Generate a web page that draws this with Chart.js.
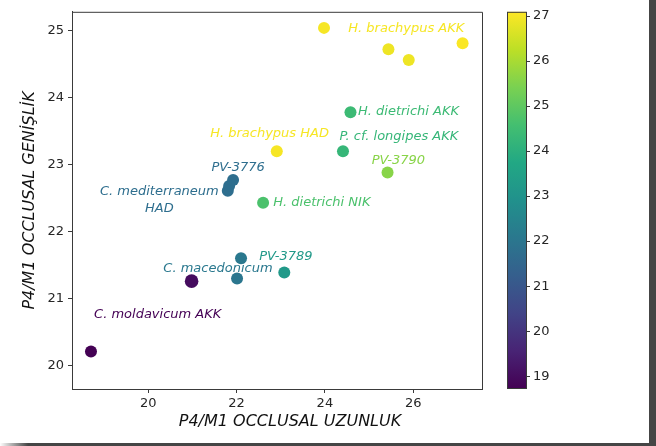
<!DOCTYPE html>
<html>
<head>
<meta charset="utf-8">
<script src="https://cdn.jsdelivr.net/npm/chart.js@4"></script>
<style>
  html, body { margin: 0; padding: 0; background: #fff; }
  #wrap { position: relative; width: 656px; height: 446px; overflow: hidden; }
  #edge-r { position: absolute; left: 649px; top: 0; width: 7px; height: 446px; background: #454545; }
  #edge-b { position: absolute; left: 0; top: 443px; width: 656px; height: 3px;
            background: linear-gradient(to right, rgba(69,69,69,0) 0px, #454545 28px); }
</style>
</head>
<body>
<div id="wrap">
  <canvas id="c" width="656" height="446"></canvas>
  <div id="edge-r"></div>
  <div id="edge-b"></div>
</div>
<script>
/* ---- data ---- */
const lengthVals = [18.70, 20.98, 22.10, 22.01, 23.08, 22.60, 21.80, 21.83, 21.92, 22.91, 24.41, 24.58, 25.42, 23.98, 25.44, 25.90, 27.12];
const widthVals  = [20.21, 21.26, 21.60, 21.30, 21.39, 22.43, 22.61, 22.68, 22.77, 23.20, 23.20, 23.78, 22.88, 25.04, 24.72, 24.56, 24.81];
const colorVals  = [18.74, 19.00, 22.08, 22.00, 23.20, 24.70, 21.75, 21.75, 21.75, 27.00, 24.25, 24.40, 25.60, 27.00, 26.90, 26.90, 27.05];

const labelTexts = ['H. brachypus AKK', 'H. dietrichi AKK', 'H. brachypus HAD', 'P. cf. longipes AKK', 'PV-3790',
                    'PV-3776', 'C. mediterraneum\nHAD', 'H. dietrichi NIK', 'PV-3789', 'C. macedonicum', 'C. moldavicum AKK'];
const labelX     = [24.53, 24.75, 21.40, 24.33, 25.06, 21.43, 20.25, 22.83, 22.51, 20.34, 18.77];
const labelY     = [25.03, 23.79, 23.46, 23.41, 23.06, 22.96, 22.47, 22.43, 21.62, 21.44, 20.76];
const labelColor = [27.00, 24.40, 27.00, 24.25, 25.60, 21.75, 21.75, 24.70, 23.20, 22.08, 18.74];

const xTicks = [20, 22, 24, 26];
const yTicks = [20, 21, 22, 23, 24, 25];
const cTicks = [19, 20, 21, 22, 23, 24, 25, 26, 27];
const C_MIN = 18.74, C_MAX = 27.09;
const X_TITLE = 'P4/M1 OCCLUSAL UZUNLUK';

/* ---- viridis ---- */
const VIRIDIS = ['#440154','#482475','#414487','#355f8d','#2a788e','#21918c','#22a884','#44bf70','#7ad151','#bddf26','#fde725'];
function hex2rgb(h) { return [1,3,5].map(i => parseInt(h.substr(i,2),16)); }
function viridis(t) {
    t = Math.max(0, Math.min(1, t));
    const p = t * (VIRIDIS.length - 1), i = Math.min(Math.floor(p), VIRIDIS.length - 2), f = p - i;
    const a = hex2rgb(VIRIDIS[i]), b = hex2rgb(VIRIDIS[i+1]);
    return `rgb(${a.map((v,k)=>Math.round(v + (b[k]-v)*f)).join(',')})`;
}
function cmap(v) { return viridis((v - C_MIN) / (C_MAX - C_MIN)); }

const FONT = 'DejaVu Sans';
const TICK_COLOR = '#262626';

/* ---- frame, colorbar, text labels, x title ---- */
const extras = {
    id: 'extras',
    afterDatasetsDraw(chart) {
        const ctx = chart.ctx, a = chart.chartArea, xs = chart.scales.x, ys = chart.scales.y;
        ctx.save();
        // text labels
        ctx.font = `italic 13px "${FONT}"`;
        ctx.textBaseline = 'middle';
        labelTexts.forEach((t, i) => {
            const px = xs.getPixelForValue(labelX[i]), py = ys.getPixelForValue(labelY[i]);
            ctx.fillStyle = cmap(labelColor[i]);
            const lines = t.split('\n');
            if (lines.length > 1) {
                ctx.textAlign = 'center';
                const lh = 17.5, y0 = py - lh * (lines.length - 1) / 2;
                lines.forEach((l, k) => ctx.fillText(l, px, y0 + k * lh));
            } else {
                ctx.textAlign = 'left';
                ctx.fillText(t, px, py);
            }
        });
        // x axis title (sits a little right of the plot centre in the picture)
        ctx.font = `italic 16px "${FONT}"`;
        ctx.fillStyle = '#111'; ctx.textAlign = 'center';
        ctx.fillText(X_TITLE, (a.left + a.right) / 2 + 13, 422);
        // top/right frame
        ctx.strokeStyle = '#3a3a3a'; ctx.lineWidth = 1;
        ctx.beginPath();
        ctx.moveTo(a.left, a.top + 0.5); ctx.lineTo(a.right + 0.5, a.top + 0.5); ctx.lineTo(a.right + 0.5, a.bottom);
        ctx.stroke();
        // colorbar
        const cbL = 507, cbR = 526, top = a.top, bot = a.bottom - 1;
        const g = ctx.createLinearGradient(0, bot, 0, top);
        VIRIDIS.forEach((c, i) => g.addColorStop(i / (VIRIDIS.length - 1), c));
        ctx.fillStyle = g;
        ctx.fillRect(cbL, top, cbR - cbL, bot - top);
        ctx.strokeRect(cbL + 0.5, top + 0.5, cbR - cbL, bot - top);
        ctx.font = `13px "${FONT}"`;
        ctx.fillStyle = TICK_COLOR; ctx.textAlign = 'left'; ctx.textBaseline = 'middle';
        cTicks.forEach(v => {
            const py = bot - (v - C_MIN) / (C_MAX - C_MIN) * (bot - top);
            ctx.beginPath(); ctx.moveTo(cbR, Math.round(py) + 0.5); ctx.lineTo(cbR + 4, Math.round(py) + 0.5); ctx.stroke();
            ctx.fillText(String(v), cbR + 7, py);
        });
        ctx.restore();
    }
};

new Chart(document.getElementById('c'), {
    type: 'scatter',
    data: {
        datasets: [{
            data: lengthVals.map((x, i) => ({ x, y: widthVals[i] })),
            backgroundColor: colorVals.map(cmap),
            borderWidth: 0,
            pointRadius: lengthVals.map((x, i) => i === 1 ? 6.8 : 6),
            pointHoverRadius: 6
        }]
    },
    options: {
        responsive: false,
        animation: false,
        events: [],
        layout: { padding: { top: 10, right: 174, bottom: 0, left: 0 } },
        plugins: { legend: { display: false }, tooltip: { enabled: false } },
        scales: {
            x: {
                type: 'linear', min: 18.27, max: 27.56,
                afterBuildTicks: s => { s.ticks = xTicks.map(v => ({ value: v })); },
                afterFit: s => { s.height = 57; },
                grid: { drawOnChartArea: false, drawTicks: true, tickLength: 4, color: '#3a3a3a' },
                border: { color: '#3a3a3a' },
                ticks: { color: TICK_COLOR, font: { family: FONT, size: 13 }, padding: 3, maxRotation: 0 },
                title: { display: false }
            },
            y: {
                type: 'linear', min: 19.65, max: 25.28,
                afterBuildTicks: s => { s.ticks = yTicks.map(v => ({ value: v })); },
                afterFit: s => { s.width = 72; },
                grid: { drawOnChartArea: false, drawTicks: true, tickLength: 4, color: '#3a3a3a' },
                border: { color: '#3a3a3a' },
                ticks: { color: TICK_COLOR, font: { family: FONT, size: 13 }, padding: 4 },
                title: { display: true, text: 'P4/M1 OCCLUSAL GENİŞLİK', color: '#111',
                         font: { family: FONT, size: 16, style: 'italic' }, padding: { top: 20, bottom: 0 } }
            }
        }
    },
    plugins: [extras]
});
</script>
</body>
</html>
